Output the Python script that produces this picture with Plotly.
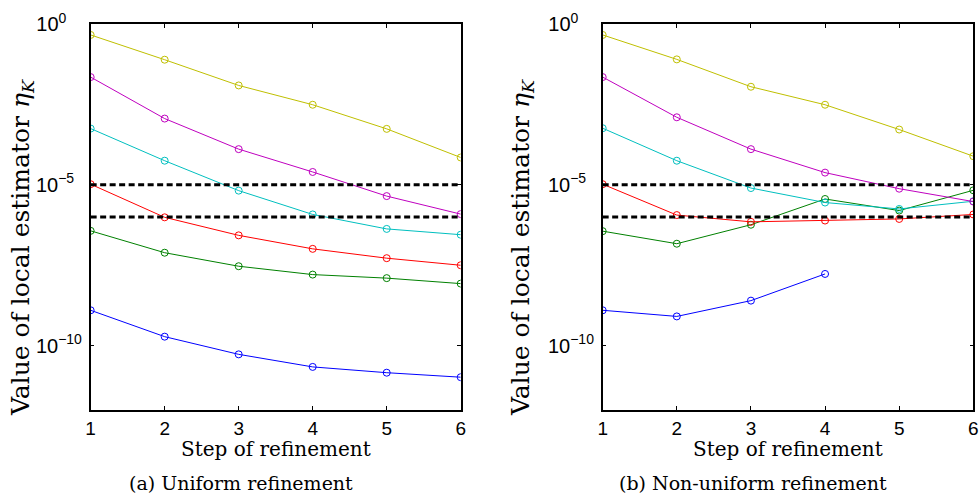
import plotly.graph_objects as go

steps = [1, 2, 3, 4, 5, 6]
steps_blue_b = [1, 2, 3, 4]

# log10 values
# (a) Uniform refinement
a_yellow = [-0.34, -1.11, -1.91, -2.51, -3.26, -4.15]
a_magenta = [-1.65, -2.94, -3.89, -4.60, -5.35, -5.91]
a_cyan = [-3.25, -4.25, -5.18, -5.92, -6.37, -6.55]
a_red = [-4.98, -6.01, -6.57, -6.99, -7.28, -7.50]
a_green = [-6.43, -7.11, -7.53, -7.79, -7.90, -8.07]
a_blue = [-8.90, -9.72, -10.27, -10.66, -10.84, -10.98]

# (b) Non-uniform refinement
b_yellow = [-0.34, -1.10, -1.95, -2.51, -3.28, -4.11]
b_magenta = [-1.65, -2.90, -3.89, -4.62, -5.12, -5.52]
b_cyan = [-3.24, -4.25, -5.10, -5.55, -5.75, -5.51]
b_red = [-4.98, -5.94, -6.15, -6.11, -6.06, -5.92]
b_green = [-6.44, -6.83, -6.24, -5.44, -5.80, -5.17]
b_blue = [-8.90, -9.09, -8.60, -7.77]

thresholds = [1e-5, 1e-6]

y_ticks = [1e-10, 1e-5, 1]
y_ticktext = ["10<sup>−10</sup>", "10<sup>−5\u00a0\u00a0</sup>", "10<sup>0\u00a0\u00a0\u00a0\u00a0</sup>"]

colors = {
    "yellow": "#bfbf00",
    "magenta": "#bf00bf",
    "cyan": "#00bfbf",
    "red": "#ff0000",
    "green": "#008000",
    "blue": "#0000ff",
}

fig = go.Figure()


def add_series(xs, logvals, color, xa, ya):
    fig.add_trace(go.Scatter(
        x=xs, y=[10 ** v for v in logvals], mode="lines+markers",
        line=dict(color=color, width=1),
        marker=dict(symbol="circle-open", size=7, color=color, line=dict(width=1, color=color)),
        xaxis=xa, yaxis=ya, showlegend=False, hoverinfo="skip"))


for xa, ya, series in [
    ("x", "y", [(steps, a_blue, "blue"), (steps, a_green, "green"), (steps, a_red, "red"),
                (steps, a_cyan, "cyan"), (steps, a_magenta, "magenta"), (steps, a_yellow, "yellow")]),
    ("x2", "y2", [(steps_blue_b, b_blue, "blue"), (steps, b_green, "green"), (steps, b_red, "red"),
                  (steps, b_cyan, "cyan"), (steps, b_magenta, "magenta"), (steps, b_yellow, "yellow")]),
]:
    for xs, vals, c in series:
        add_series(xs, vals, colors[c], xa, ya)
    for t in thresholds:
        fig.add_trace(go.Scatter(
            x=[steps[0], steps[-1]], y=[t, t], mode="lines",
            line=dict(color="black", width=3, dash="6px,3.5px"),
            xaxis=xa, yaxis=ya, showlegend=False, hoverinfo="skip"))

xtickfont = dict(family="Liberation Sans, Arial, sans-serif", size=19, color="black")
ytickfont = dict(family="Liberation Sans, Arial, sans-serif", size=20, color="black")
xaxis_common = dict(
    range=[1, 6], tickvals=steps, ticks="inside", ticklen=4, tickwidth=1, tickcolor="black",
    showline=True, linecolor="black", linewidth=1.5, mirror="ticks", showgrid=False,
    zeroline=False, tickfont=xtickfont, automargin=False, ticklabelstandoff=0,
)
yaxis_common = dict(
    type="log", range=[-12, 0], tickvals=y_ticks, ticktext=y_ticktext, ticks="inside",
    ticklen=4, tickwidth=1, tickcolor="black", showline=True, linecolor="black", linewidth=1.5,
    mirror="ticks", showgrid=False, zeroline=False, tickfont=ytickfont, automargin=False,
    ticklabelstandoff=3,
)

fig.update_layout(
    width=979, height=495, margin=dict(l=0, r=0, t=0, b=0, autoexpand=False),
    paper_bgcolor="white", plot_bgcolor="white",
    xaxis=dict(domain=[0.0926, 0.4706], anchor="y", **xaxis_common),
    yaxis=dict(domain=[0.1717, 0.9515], anchor="x", **yaxis_common),
    xaxis2=dict(domain=[0.6156, 0.9942], anchor="y2", **xaxis_common),
    yaxis2=dict(domain=[0.1717, 0.9515], anchor="x2", **yaxis_common),
)

serif = "DejaVu Serif, serif"
ann = []
for cx, ylx in [(275.7, 22), (788, 522)]:
    ann.append(dict(x=cx / 979, y=(495 - 449) / 495, xref="paper", yref="paper",
                    text="Step of refinement", showarrow=False,
                    font=dict(family=serif, size=20, color="black"), xanchor="center", yanchor="middle"))
    ann.append(dict(x=ylx / 979, y=(495 - 248) / 495, xref="paper", yref="paper",
                    text="Value of local estimator <i>η</i><sub><i>K</i></sub>", showarrow=False,
                    textangle=-90,
                    font=dict(family=serif, size=25, color="black"), xanchor="center", yanchor="middle"))
ann.append(dict(x=240.5 / 979, y=(495 - 483) / 495, xref="paper", yref="paper",
                text="(a) Uniform refinement", showarrow=False,
                font=dict(family=serif, size=19, color="black"), xanchor="center", yanchor="middle"))
ann.append(dict(x=752.5 / 979, y=(495 - 483) / 495, xref="paper", yref="paper",
                text="(b) Non-uniform refinement", showarrow=False,
                font=dict(family=serif, size=19, color="black"), xanchor="center", yanchor="middle"))
fig.update_layout(annotations=ann)

fig.write_html("out.html", config={"displayModeBar": False},
               post_script="document.body.style.margin='0';document.body.style.overflow='hidden';")
